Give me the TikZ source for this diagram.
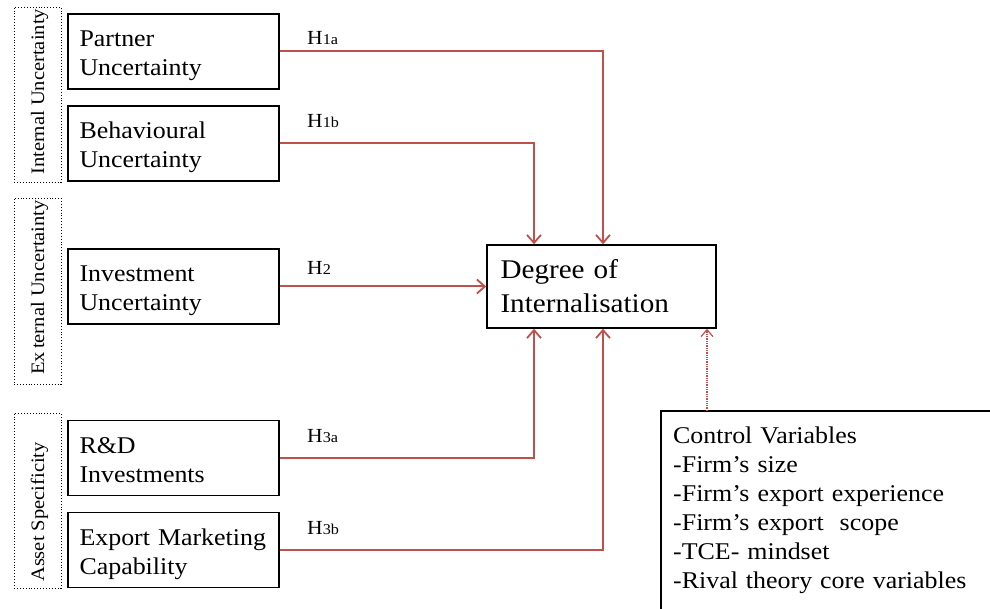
\documentclass[tikz,border=0pt]{standalone}
\usepackage{fontspec}
\setmainfont{Liberation Serif}[FakeStretch=1.08]
\usetikzlibrary{arrows.meta}
\definecolor{linkred}{RGB}{192,80,77}

\begin{document}
\begin{tikzpicture}[x=1pt,y=-1pt,
  varbox/.style={draw, line width=1.5pt, minimum width=211pt, minimum height=75pt,
    text width=188pt, align=left, inner xsep=11.5pt, inner ysep=2pt,
    text height=16pt, text depth=26pt,
    execute at begin node=\hyphenpenalty10000\relax,
    font=\fontsize{24}{29}\selectfont},
  groupbox/.style={draw, dotted, line width=0.9pt, minimum width=47pt, inner sep=0pt},
  grouplabel/.style={rotate=90, anchor=base west, inner sep=0pt,
    font=\fontsize{19}{19}\selectfont},
  link/.style={draw=linkred, line width=2pt,
    -{Straight Barb[length=8pt,width=14pt,line width=1.8pt]}},
  ctrllink/.style={draw=linkred, line width=1.3pt, densely dotted,
    -{Straight Barb[length=7pt,width=12pt,line width=1.2pt]}},
  hlabel/.style={anchor=base west, inner sep=0pt, font=\fontsize{20}{20}\selectfont},
]
\useasboundingbox (0,0) rectangle (990,609);
\clip (0,0) rectangle (990,609);

% group frames with rotated captions
\node[groupbox, minimum height=175pt] (grpint) at (37.5,94.5) {};
\node[grouplabel] (lblint) at (44,175) {Internal Uncertainty};
\node[groupbox, minimum height=186pt] (grpext) at (37.5,291) {};
\node[grouplabel] (lblext) at (44,375) {Ex\,ternal Uncertainty};
\node[groupbox, minimum height=175pt] (grpasset) at (37.5,500.5) {};
\node[grouplabel] (lblasset) at (44,582) {Asset Specificity};

% explanatory variables
\node[varbox] (partner) at (173.5,51.5) {Partner\\Uncertainty};
\node[varbox] (behav)   at (173.5,143.5) {Behavioural\\Uncertainty};
\node[varbox] (invest)  at (173.5,286.5) {Investment\\Uncertainty};
\node[varbox] (rnd)     at (173.5,458) {R\&D\\Investments};
\node[varbox] (export)  at (173.5,550) {Export Marketing\\Capability};

% dependent variable
\node[draw, line width=1.5pt, minimum width=229pt, minimum height=83pt,
  text width=202pt, inner xsep=13.5pt, inner ysep=2pt, align=left,
  text height=19pt, text depth=34pt,
  font=\fontsize{27}{34}\selectfont] (degree) at (601.5,286.5)
  {Degree of\\Internalisation};

% control variables
\node[anchor=north west, inner xsep=12pt, inner ysep=15.5pt, align=left,
  text width=300pt, font=\fontsize{24}{29}\selectfont] (ctrl) at (661,411)
  {Control Variables\\-Firm’s size\\-Firm’s export experience\\-Firm’s export~ scope\\-TCE- mindset\\-Rival theory core variables};
\draw[line width=1.5pt] (ctrl.north west) rectangle ++(400,260);

% columns where the links enter the dependent variable
\coordinate (colA) at (534,0);
\coordinate (colB) at (603,0);
\coordinate (colC) at (707,0);

% hypothesised links
\draw[link] (partner.east) -| (colB |- degree.north);
\draw[link] (behav.east)   -| (colA |- degree.north);
\draw[link] (invest.east)  -- (degree.west |- invest.east);
\draw[link] (rnd.east)     -| (colA |- degree.south);
\draw[link] (export.east)  -| (colB |- degree.south);
\draw[ctrllink] (ctrl.north west -| colC) -- (colC |- degree.south);

% hypothesis labels
\node[hlabel] (h1a) at (307,45)  {H{\fontsize{15}{15}\selectfont 1a}};
\node[hlabel] (h1b) at (307,128) {H{\fontsize{15}{15}\selectfont 1b}};
\node[hlabel] (h2)  at (307,275) {H{\fontsize{15}{15}\selectfont 2}};
\node[hlabel] (h3a) at (307,442) {H{\fontsize{15}{15}\selectfont 3a}};
\node[hlabel] (h3b) at (307,534) {H{\fontsize{15}{15}\selectfont 3b}};
\end{tikzpicture}
\end{document}
